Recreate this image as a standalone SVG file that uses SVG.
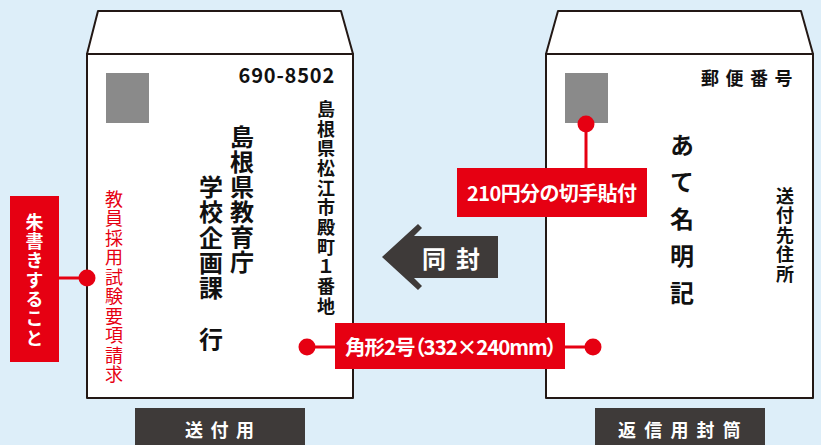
<svg xmlns="http://www.w3.org/2000/svg" width="821" height="445" viewBox="0 0 821 445">
<defs>
<style>
.env{fill:#ffffff;stroke:#231815;stroke-width:2;stroke-linejoin:round}
.stamp{fill:#8a8a8a}
.t{font-family:"Noto Sans CJK JP","Noto Sans",sans-serif}
.b{font-weight:bold}
.blk{fill:#111111}
.wht{fill:#ffffff}
.red{fill:#e60012}
.vt{writing-mode:vertical-rl}
.palt{font-feature-settings:"palt"}
.rbox{fill:#e60012}
.dbox{fill:#3e3a39}
.cl{stroke:#e60012;stroke-width:3;fill:none}
.dot{fill:#e60012}
</style>
</defs>
<rect x="0" y="0" width="821" height="445" fill="#ddeef9"/>

<g id="envelope-send">
<polygon class="env" points="98,11 341,11 353,54 87,54"/>
<rect class="env" x="87" y="54" width="266" height="344"/>
<rect class="stamp" x="106" y="73" width="43" height="50"/>
<text class="t b blk" x="335" y="83" font-size="20" text-anchor="end" letter-spacing="0.8">690-8502</text>
<text class="t b blk vt" x="326" y="100" font-size="18" letter-spacing="1.7">島根県松江市殿町１番地</text>
<text class="t b blk vt" x="242" y="125" font-size="24" letter-spacing="1">島根県教育庁</text>
<text class="t b blk vt" x="211" y="175" font-size="24" letter-spacing="1.3">学校企画課　行</text>
<text class="t red vt" x="114" y="190" font-size="18" letter-spacing="1.5">教員採用試験要項請求</text>
</g>

<g id="envelope-return">
<polygon class="env" points="558,11 801,11 813,54 546,54"/>
<rect class="env" x="546" y="54" width="267" height="344"/>
<rect class="stamp" x="565" y="73" width="43" height="50"/>
<text class="t b blk" x="701" y="85" font-size="18" letter-spacing="6.5">郵便番号</text>
<text class="t b blk vt" x="682" y="133" font-size="24" letter-spacing="13">あて名明記</text>
<text class="t b blk vt" x="785" y="187" font-size="18" letter-spacing="1.5">送付先住所</text>
</g>

<g id="connectors">
<line class="cl" x1="59" y1="278" x2="87" y2="278"/>
<circle class="dot" cx="87" cy="278" r="8.5"/>
<line class="cl" x1="307" y1="347" x2="593" y2="347"/>
<circle class="dot" cx="307" cy="347" r="8.5"/>
<circle class="dot" cx="593" cy="347" r="8.5"/>
<line class="cl" x1="586" y1="124" x2="586" y2="170"/>
<circle class="dot" cx="586" cy="124" r="8.5"/>
</g>

<g id="label-write-in-red">
<rect class="rbox" x="10" y="196" width="49" height="166"/>
<text class="t b wht vt" x="34.5" y="213" font-size="18" letter-spacing="1.3">朱書きすること</text>
</g>

<g id="arrow-enclose">
<polygon class="dbox" points="382,257 418,224 422,228 414,236 498,236 498,278 414,278 422,286 418,290"/>
<text class="t b wht" x="422" y="257" font-size="24" dominant-baseline="central" letter-spacing="10">同封</text>
</g>

<g id="label-size">
<rect class="rbox" x="335" y="323" width="230" height="46"/>
<text class="t b wht palt" x="345" y="346" font-size="20.5" dominant-baseline="central" textLength="212">角形2号（332×240mm）</text>
</g>

<g id="label-stamp">
<rect class="rbox" x="457" y="168" width="190" height="49"/>
<text class="t b wht" x="467" y="192.5" font-size="20" dominant-baseline="central" textLength="170">210円分の切手貼付</text>
</g>

<g id="caption-send">
<rect class="dbox" x="135" y="408" width="170" height="37"/>
<text class="t b wht" x="185" y="429" font-size="18" dominant-baseline="central" letter-spacing="7.5">送付用</text>
</g>

<g id="caption-return">
<rect class="dbox" x="595" y="408" width="170" height="37"/>
<text class="t b wht" x="618" y="429" font-size="18" dominant-baseline="central" letter-spacing="8.2">返信用封筒</text>
</g>
</svg>
